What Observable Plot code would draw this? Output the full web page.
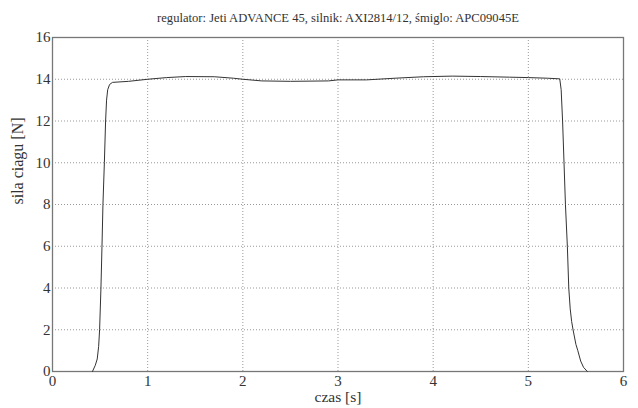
<!DOCTYPE html>
<html>
<head>
<meta charset="utf-8">
<script src="https://cdn.jsdelivr.net/npm/d3@7"></script>
<script src="https://cdn.jsdelivr.net/npm/@observablehq/plot@0.6"></script>
<style>
  html, body { margin: 0; padding: 0; background: #fff; }
  #chart { width: 638px; height: 408px; }
</style>
</head>
<body>
<div id="chart"></div>
<script>
const titleText = "regulator: Jeti ADVANCE 45, silnik: AXI2814/12, śmiglo: APC09045E";
const xLabel = "czas [s]";
const yLabel = "sila ciagu [N]";
const xTicks = [0, 1, 2, 3, 4, 5, 6];
const yTicks = [0, 2, 4, 6, 8, 10, 12, 14, 16];

const timeS = [0.42, 0.45, 0.47, 0.485, 0.495, 0.509, 0.52, 0.53, 0.545, 0.558, 0.568, 0.58, 0.6, 0.63, 0.8, 1.0, 1.2, 1.4, 1.7, 1.9, 2.0, 2.2, 2.5, 2.9, 3.0, 3.3, 3.6, 3.9, 4.2, 4.5, 4.8, 5.0, 5.2, 5.33, 5.345, 5.36, 5.375, 5.39, 5.41, 5.425, 5.44, 5.455, 5.47, 5.5, 5.52, 5.55, 5.58, 5.62];
const thrustN = [0, 0.3, 0.6, 1.2, 2.0, 4.0, 6.0, 8.0, 10.0, 12.0, 13.0, 13.5, 13.75, 13.85, 13.9, 14.0, 14.08, 14.13, 14.12, 14.05, 14.0, 13.92, 13.9, 13.92, 13.97, 13.97, 14.05, 14.12, 14.15, 14.13, 14.1, 14.08, 14.05, 14.02, 13.5, 12.0, 10.0, 8.0, 6.0, 4.0, 3.0, 2.4, 2.0, 1.3, 1.0, 0.5, 0.2, 0];

const data = timeS.map((t, i) => ({t, f: thrustN[i]}));
const serif = "'Liberation Serif', 'DejaVu Serif', serif";

const chart = Plot.plot({
  width: 638,
  height: 408,
  marginLeft: 52,
  marginRight: 15,
  marginTop: 37,
  marginBottom: 37,
  style: {fontFamily: serif, fontSize: "15px", color: "#333", background: "#fff"},
  x: {domain: [0, 6], ticks: xTicks},
  y: {domain: [0, 16], ticks: yTicks},
  marks: [
    Plot.ruleX(xTicks.slice(1, -1), {stroke: "#999", strokeDasharray: "1,2", strokeWidth: 1}),
    Plot.ruleY(yTicks.slice(1, -1), {stroke: "#999", strokeDasharray: "1,2", strokeWidth: 1}),
    Plot.frame({stroke: "#777", strokeWidth: 1.3}),
    Plot.axisX({ticks: xTicks, tickFormat: d3.format("d"), tickSize: 0, tickPadding: 4, label: null, fontSize: 15, fontFamily: serif}),
    Plot.axisY({ticks: yTicks, tickFormat: d3.format("d"), tickSize: 0, tickPadding: 2, label: null, fontSize: 15, fontFamily: serif}),
    Plot.line(data, {x: "t", y: "f", stroke: "#333", strokeWidth: 1}),
    Plot.text([xLabel], {text: d => d, frameAnchor: "bottom", lineAnchor: "middle", dy: 26, fontSize: 15.5, fontFamily: serif, fill: "#333"}),
    Plot.text([yLabel], {text: d => d, frameAnchor: "left", lineAnchor: "middle", rotate: -90, dx: -35, fontSize: 16, fontFamily: serif, fill: "#333"}),
    Plot.text([titleText], {text: d => d, frameAnchor: "top", lineAnchor: "middle", dy: -20, fontSize: 12.6, fontFamily: serif, fill: "#333"})
  ]
});
document.getElementById("chart").appendChild(chart);
</script>
</body>
</html>
